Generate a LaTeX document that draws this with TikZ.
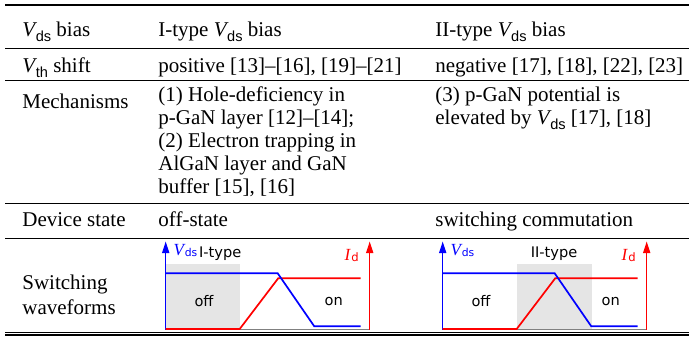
\documentclass[tikz,border=0pt]{standalone}
\usepackage{fontspec}
\setmainfont{Liberation Serif}
\newfontfamily\subfont{Liberation Sans}
\newfontfamily\wavefont{DejaVu Sans}
\usetikzlibrary{arrows.meta}

\definecolor{bandgray}{gray}{0.9}
\definecolor{axisgray}{gray}{0.5}

% V with a sans-serif subscript, as used in the table text
\newcommand\Vsub[1]{{\itshape V}\kern0.3pt\raisebox{-2.6pt}{\subfont\fontsize{7.3pt}{8pt}\selectfont #1}}
% axis labels of the waveform sketches
\newcommand\WaveV{{\rmfamily\itshape\fontsize{8.5pt}{9pt}\selectfont V}\kern0.4pt\raisebox{-0.8pt}{\wavefont\fontsize{5.4pt}{6pt}\selectfont ds}}
\newcommand\WaveI{{\rmfamily\itshape\fontsize{8.5pt}{9pt}\selectfont I}\kern0.6pt\raisebox{-0.8pt}{\wavefont\fontsize{5.8pt}{6pt}\selectfont d}}

\tikzset{
  cell/.style={anchor=base west, inner sep=0pt, font=\fontsize{10.5pt}{12pt}\selectfont},
  heavyrule/.style={line width=0.9pt},
  lightrule/.style={line width=0.45pt},
  baseaxis/.style={axisgray, line width=0.5pt},
  vaxis/.style={blue, line width=0.55pt, -{Triangle[length=5.8pt,width=3.6pt]}},
  iaxis/.style={red, line width=0.55pt, -{Triangle[length=5.8pt,width=3.6pt]}},
  trace/.style={line width=0.85pt},
  wlabel/.style={inner sep=0pt, anchor=base, font=\wavefont\fontsize{7.3pt}{8pt}\selectfont},
}

% one switching-waveform sketch: #1 x of the V axis, #2 name prefix,
% #3 and #4 horizontal extent of the shaded interval (relative)
\newcommand\waveform[4]{%
\begin{scope}[shift={(#1,0)}, name prefix=#2-]
  \fill[bandgray] (#3,264) rectangle (#4,329);
  \draw[baseaxis] (0,329.4) -- (204,329.4);
  \draw[vaxis] (0,329.8) -- (0,241.5);
  \draw[iaxis] (204,329.8) -- (204,241.5);
  \draw[trace, red] (0,329) -- (74,329) -- (112.5,278.3) -- (195,278.3);
  \draw[trace, blue] (0,273.3) -- (112,273.3) -- (148.5,326.2) -- (195,326.2);
  \node[wlabel, anchor=base west, text=blue] (vds) at (7.5,255) {\WaveV};
  \node[wlabel, anchor=base east, text=red] (id) at (193.5,260) {\WaveI};
  \node[wlabel] (off) at (38.3,306.5) {off};
  \node[wlabel] (on) at (168,305) {on};
\end{scope}}

\begin{document}
\begin{tikzpicture}[x=0.5pt, y=-0.5pt]
\useasboundingbox (0,0) rectangle (692,339);

% rules of the table
\draw[heavyrule] (5,5) -- (689,5);
\draw[lightrule] (5,48) -- (689,48);
\draw[lightrule] (5,80) -- (689,80);
\draw[lightrule] (5,203) -- (689,203);
\draw[lightrule] (5,238) -- (689,238);
\draw[lightrule] (5,332.5) -- (689,332.5);
\draw[heavyrule] (5,335.3) -- (689,335.3);

% header row
\node[cell] (h1) at (22,36.5) {\Vsub{ds} bias};
\node[cell] (h2) at (158,36.5) {I-type \Vsub{ds} bias};
\node[cell] (h3) at (435,36.5) {II-type \Vsub{ds} bias};

% threshold shift
\node[cell] (s1) at (22,72) {\Vsub{th} shift};
\node[cell] (s2) at (158,72) {positive [13]--[16], [19]--[21]};
\node[cell] (s3) at (435,72) {negative [17], [18], [22], [23]};

% mechanisms
\node[cell] (m1) at (22,108) {Mechanisms};
\node[cell] (m2a) at (158,101) {(1) Hole-deficiency in};
\node[cell] (m2b) at (158,124) {p-GaN layer [12]--[14];};
\node[cell] (m2c) at (158,147) {(2) Electron trapping in};
\node[cell] (m2d) at (158,170) {AlGaN layer and GaN};
\node[cell] (m2e) at (158,193) {buffer [15], [16]};
\node[cell] (m3a) at (435,101) {(3) p-GaN potential is};
\node[cell] (m3b) at (435,124) {elevated by \Vsub{ds} [17], [18]};

% device state
\node[cell] (d1) at (22,226.5) {Device state};
\node[cell] (d2) at (158,226.5) {off-state};
\node[cell] (d3) at (435,226.5) {switching commutation};

% switching waveforms
\node[cell] (w1) at (22,289.5) {Switching};
\node[cell] (w2) at (22,314.5) {waveforms};

\waveform{165.7}{wI}{0}{74.3}
\node[wlabel, anchor=base west] (typeI) at (198.7,257.7) {I-type};

\waveform{442.7}{wII}{74}{149}
\node[wlabel] (typeII) at (554,257.7) {II-type};
\end{tikzpicture}
\end{document}
